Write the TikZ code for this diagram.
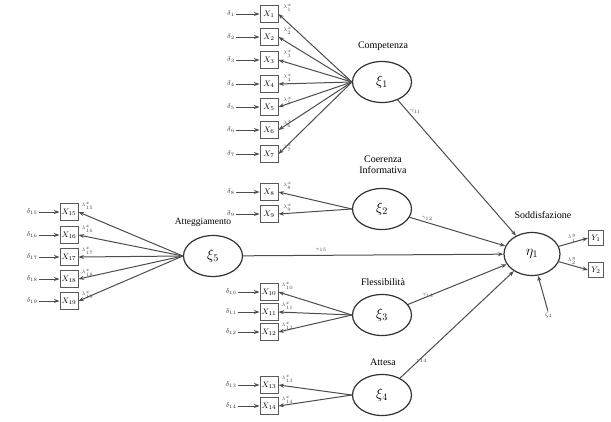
\documentclass[tikz,border=0pt]{standalone}
\usepackage{fontspec}
\setmainfont{Liberation Serif}
\usetikzlibrary{shapes.geometric,arrows.meta}
\tikzset{
  lat/.style={ellipse, draw=black!80, line width=1.2pt, minimum width=59pt, minimum height=41pt, inner sep=0, font=\fontsize{14}{15}\selectfont},
  obs/.style={rectangle, draw=black!65, line width=0.9pt, minimum width=18pt, minimum height=17pt, inner sep=0, font=\fontsize{8}{9}\selectfont},
  err/.style={font=\fontsize{7}{8}\selectfont, inner sep=1pt, text=black!80},
  arr/.style={-{Stealth[length=5.5pt,width=4pt]}, draw=black!70, line width=1pt},
  lam/.style={font=\fontsize{5.5}{6}\selectfont, inner sep=0, text=black!70},
  ttl/.style={font=\fontsize{10}{11}\selectfont, inner sep=0, align=center},
}
\begin{document}
\begin{tikzpicture}[x=1pt,y=-1pt]
\useasboundingbox (0,0) rectangle (611,421);
% latent variables
\node[lat] (xi1) at (382,82) {$\xi_1$};
\node[lat] (xi2) at (382,209) {$\xi_2$};
\node[lat] (xi3) at (382,315) {$\xi_3$};
\node[lat] (xi4) at (382,395) {$\xi_4$};
\node[lat] (xi5) at (213,256) {$\xi_5$};
\node[lat, minimum width=56pt, minimum height=43pt] (eta) at (532,254) {$\eta_1$};
% titles
\node[ttl] (t1) at (383,46) {Competenza};
\node[ttl] (t2) at (383,165) {Coerenza\\Informativa};
\node[ttl] (t3) at (383,282) {Flessibilità};
\node[ttl] (t4) at (383,362) {Attesa};
\node[ttl, font=\fontsize{9.5}{10}\selectfont] (t5) at (203,222) {Atteggiamento};
\node[ttl] (t6) at (543,215) {Soddisfazione};
% Competenza indicators
\foreach \i/\y in {1/14,2/37,3/60,4/84,5/107,6/130,7/154}{
  \node[obs] (x\i) at (269,\y) {$X_{\i}$};
  \node[err] (d\i) at (231,\y) {$\delta_{\i}$};
  \draw[arr] (d\i) -- (x\i);
  \draw[arr] (xi1.west) -- (x\i.east);
  \node[lam] (l\i) at ([shift={(9,-6)}]x\i.east) {$\lambda^x_{\i}$};
}
% Coerenza indicators
\foreach \i/\y in {8/192,9/214}{
  \node[obs] (x\i) at (269,\y) {$X_{\i}$};
  \node[err] (d\i) at (231,\y) {$\delta_{\i}$};
  \draw[arr] (d\i) -- (x\i);
  \draw[arr] (xi2.west) -- (x\i.east);
  \node[lam] (l\i) at ([shift={(9,-6)}]x\i.east) {$\lambda^x_{\i}$};
}
% Flessibilita indicators
\foreach \i/\y in {10/292,11/312,12/332}{
  \node[obs] (x\i) at (269,\y) {$X_{\i}$};
  \node[err] (d\i) at (231,\y) {$\delta_{\i}$};
  \draw[arr] (d\i) -- (x\i);
  \draw[arr] (xi3.west) -- (x\i.east);
  \node[lam] (l\i) at ([shift={(9,-6)}]x\i.east) {$\lambda^x_{\i}$};
}
% Attesa indicators
\foreach \i/\y in {13/385,14/406}{
  \node[obs] (x\i) at (269,\y) {$X_{\i}$};
  \node[err] (d\i) at (231,\y) {$\delta_{\i}$};
  \draw[arr] (d\i) -- (x\i);
  \draw[arr] (xi4.west) -- (x\i.east);
  \node[lam] (l\i) at ([shift={(9,-6)}]x\i.east) {$\lambda^x_{\i}$};
}
% Atteggiamento indicators
\foreach \i/\y in {15/212,16/235,17/257,18/279,19/301}{
  \node[obs] (x\i) at (69,\y) {$X_{\i}$};
  \node[err] (d\i) at (32,\y) {$\delta_{\i}$};
  \draw[arr] (d\i) -- (x\i);
  \draw[arr] (xi5.west) -- (x\i.east);
  \node[lam] (l\i) at ([shift={(9,-6)}]x\i.east) {$\lambda^x_{\i}$};
}
% structural paths
\draw[arr] (xi1) -- (eta) node[lam, pos=0.1, above right] {$\gamma_{11}$};
\draw[arr] (xi2) -- (eta) node[lam, pos=0.12, above right] {$\gamma_{12}$};
\draw[arr] (xi3) -- (eta) node[lam, pos=0.12, above right=2pt] {$\gamma_{13}$};
\draw[arr] (xi4) -- (eta) node[lam, pos=0.12, above right=2pt] {$\gamma_{14}$};
\draw[arr] (xi5) -- (eta) node[lam, pos=0.3, above=3pt] {$\gamma_{15}$};
% Y indicators
\node[obs, minimum width=15pt, minimum height=15pt] (y1) at (596,238) {$Y_1$};
\node[obs, minimum width=15pt, minimum height=15pt] (y2) at (596,270) {$Y_2$};
\draw[arr] (eta) -- (y1.west) node[lam, pos=0.45, above] {$\lambda^y_1$};
\draw[arr] (eta) -- (y2.west) node[lam, pos=0.45, above] {$\lambda^y_2$};
% disturbance
\node[err] (z1) at (549,315) {$\zeta_1$};
\draw[arr] (z1) -- (eta);
\end{tikzpicture}
\end{document}
